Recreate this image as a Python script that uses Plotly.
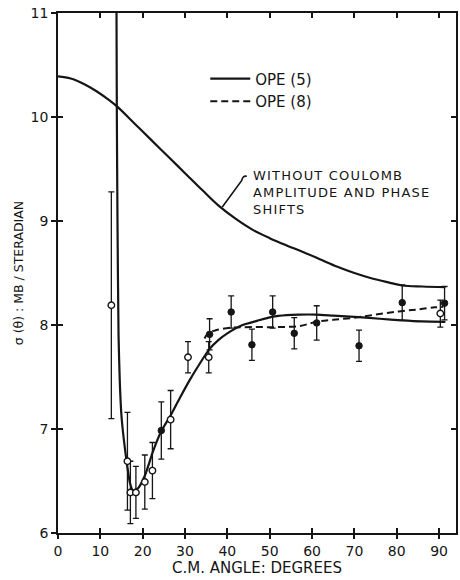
import plotly.graph_objects as go

# ---- data ----
no_coulomb_x = [0, 3, 6, 9, 12, 14, 18, 22, 26, 30, 34, 38, 42, 46, 50, 54, 58, 62, 66, 70, 74, 78, 81.3, 86, 91.5]
no_coulomb_y = [10.39, 10.37, 10.32, 10.25, 10.165, 10.10, 9.94, 9.78, 9.62, 9.46, 9.30, 9.145, 9.02, 8.915, 8.835,
                8.765, 8.70, 8.63, 8.56, 8.50, 8.45, 8.41, 8.38, 8.37, 8.365]

ope5_x = [13.8, 13.9, 14.05, 14.3, 14.6, 15.0, 15.6, 16.3, 17.0, 17.7, 18.9, 20.5, 22.4, 24.4, 26.6, 28.8,
          31.1, 33.5, 35.8, 38, 40, 43.6, 47, 50.7, 54, 57, 61, 65, 71, 76, 81.2, 86, 91.5]
ope5_y = [11.2, 10.0, 9.0, 7.9, 7.45, 7.12, 6.88, 6.66, 6.48, 6.41, 6.43, 6.55, 6.78, 6.98, 7.13, 7.30,
          7.47, 7.63, 7.77, 7.86, 7.92, 8.0, 8.04, 8.08, 8.095, 8.10, 8.10, 8.09, 8.075, 8.06, 8.045, 8.035, 8.03]

ope8_x = [34.6, 35.5, 37.3, 41.2, 46, 52, 57, 61, 65, 70, 75, 80.5, 85, 89, 91]
ope8_y = [7.87, 7.92, 7.95, 7.975, 7.98, 7.98, 7.99, 8.03, 8.05, 8.07, 8.10, 8.13, 8.15, 8.17, 8.175]

open_x = [12.6, 16.4, 17.1, 18.4, 20.5, 22.3, 26.6, 30.7, 35.6, 90.3]
open_y = [8.19, 6.69, 6.39, 6.39, 6.49, 6.6, 7.09, 7.69, 7.69, 8.11]
open_err = [1.09, 0.47, 0.30, 0.25, 0.26, 0.27, 0.28, 0.15, 0.15, 0.13]

filled_x = [24.4, 35.8, 40.9, 45.8, 50.7, 55.8, 61.1, 71.1, 81.3, 91.3]
filled_y = [6.985, 7.91, 8.125, 7.81, 8.125, 7.92, 8.02, 7.80, 8.215, 8.21]
filled_err = [0.275, 0.15, 0.155, 0.15, 0.155, 0.15, 0.165, 0.15, 0.17, 0.16]

x_ticks = [0, 10, 20, 30, 40, 50, 60, 70, 80, 90]
y_ticks = [6, 7, 8, 9, 10, 11]

note_lines = ["WITHOUT COULOMB", "AMPLITUDE AND PHASE", "SHIFTS"]

INK = "#151515"
FONT = "DejaVu Sans"

fig = go.Figure()

fig.add_trace(go.Scatter(x=no_coulomb_x, y=no_coulomb_y, mode="lines", line=dict(color=INK, width=2.2, shape="spline"),
                         showlegend=False, hoverinfo="skip"))
fig.add_trace(go.Scatter(x=ope5_x, y=ope5_y, mode="lines", name="OPE (5)",
                         line=dict(color=INK, width=2.2, shape="spline", smoothing=0.6)))
fig.add_trace(go.Scatter(x=ope8_x, y=ope8_y, mode="lines", name="OPE (8)",
                         line=dict(color=INK, width=2, dash="7px,4px", shape="spline")))

fig.add_trace(go.Scatter(x=open_x, y=open_y, mode="markers", showlegend=False,
                         marker=dict(symbol="circle", size=6.5, color="white", line=dict(color=INK, width=1.4)),
                         error_y=dict(type="data", array=open_err, color=INK, thickness=1.3, width=3)))
fig.add_trace(go.Scatter(x=filled_x, y=filled_y, mode="markers", showlegend=False,
                         marker=dict(symbol="circle", size=6.5, color=INK, line=dict(color=INK, width=1)),
                         error_y=dict(type="data", array=filled_err, color=INK, thickness=1.3, width=3)))

# empty trace so the overlay axes (inside ticks) are drawn
fig.add_trace(go.Scatter(x=[], y=[], xaxis="x2", yaxis="y2", showlegend=False))

# leader line for the annotation
fig.add_shape(type="path", xref="x", yref="y",
              path="M 44.6,9.43 Q 43.6,9.44 43.4,9.39 L 38.8,9.135",
              line=dict(color=INK, width=1.6))

note_html = "<br>".join('<span style="letter-spacing:1.2px">%s</span>' % t for t in note_lines)
fig.add_annotation(x=45.6, y=9.27, xref="x", yref="y", xanchor="left", yanchor="middle",
                   text=note_html, showarrow=False, align="left",
                   font=dict(family=FONT, size=13, color=INK))

fig.update_layout(
    width=460, height=580,
    margin=dict(l=58, r=2, t=13, b=47),
    paper_bgcolor="white", plot_bgcolor="white",
    font=dict(family=FONT, color=INK, size=13),
    legend=dict(x=0.37, y=0.905, xanchor="left", yanchor="top", bgcolor="rgba(0,0,0,0)",
                font=dict(family=FONT, size=15, color=INK), tracegroupgap=0, itemwidth=40),
    xaxis=dict(range=[0, 94], tickvals=x_ticks, ticks="outside", ticklen=4, tickwidth=1.5, tickcolor=INK,
               showline=True, linecolor=INK, linewidth=1.6, mirror=True, showgrid=False, zeroline=False,
               tickfont=dict(family=FONT, size=14, color=INK),
               title=dict(text="C.M. ANGLE: DEGREES", font=dict(family=FONT, size=15, color=INK), standoff=0)),
    yaxis=dict(range=[6, 11], tickvals=y_ticks, ticks="outside", ticklen=5, tickwidth=1.5, tickcolor=INK,
               showline=True, linecolor=INK, linewidth=1.6, mirror=True, showgrid=False, zeroline=False,
               tickfont=dict(family=FONT, size=14, color=INK),
               title=dict(text="σ (θ) : MB / STERADIAN", font=dict(family=FONT, size=12.5, color=INK), standoff=4)),
    xaxis2=dict(overlaying="x", matches="x", anchor="y2", range=[0, 94], tickvals=x_ticks, ticks="inside",
                ticklen=5, tickwidth=1.5, tickcolor=INK, mirror="ticks", showline=False, showticklabels=False,
                showgrid=False, zeroline=False),
    yaxis2=dict(overlaying="y", matches="y", anchor="x2", range=[6, 11], tickvals=y_ticks, ticks="inside",
                ticklen=5, tickwidth=1.5, tickcolor=INK, mirror="ticks", showline=False, showticklabels=False,
                showgrid=False, zeroline=False),
)

fig.write_html("out.html", config={"displayModeBar": False},
               post_script="document.body.style.margin='0';document.body.style.overflow='hidden';")
